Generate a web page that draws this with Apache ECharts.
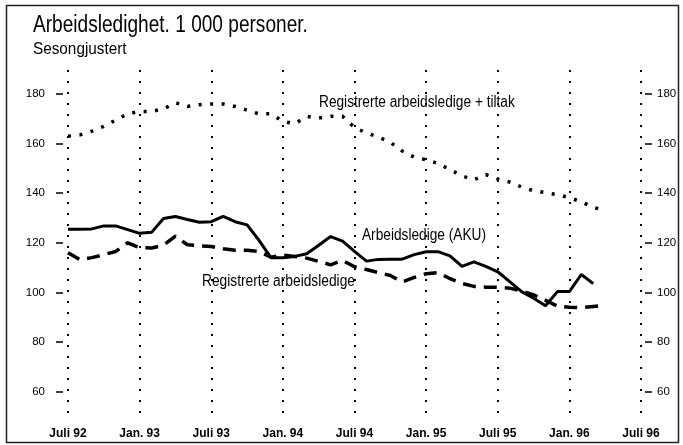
<!DOCTYPE html>
<html>
<head>
<meta charset="utf-8">
<script src="https://cdn.jsdelivr.net/npm/echarts@6/dist/echarts.min.js"></script>
<style>
  html, body { margin: 0; padding: 0; background: #fff; }
  #chartDiv { width: 683px; height: 445px; }
</style>
</head>
<body>
<div id="chartDiv"></div>
<script>
// tick labels every 6 months, Juli 92 .. Juli 96
var tickLabels = ['Juli 92', 'Jan. 93', 'Juli 93', 'Jan. 94', 'Juli 94', 'Jan. 95', 'Juli 95', 'Jan. 96', 'Juli 96'];
var yTicks = [60, 80, 100, 120, 140, 160, 180];

// Registrerte arbeidsledige + tiltak, monthly from Juli 92
var regTiltak = [163, 163.5, 165, 167, 169.5, 172, 173, 173, 174, 176.5, 175, 175.7,
  176, 176, 175, 173.5, 172, 172, 169, 168, 171, 170.3, 171, 171,
  166.5, 164.3, 162.7, 160.5, 157, 154.5, 153.5, 152, 149.5, 147, 145.4, 147.5,
  145.7, 144.5, 142.5, 141, 140.2, 139.4, 138.2, 136.5, 134.3, 133];
// Arbeidsledige (AKU)
var aku = [125.5, 125.5, 125.6, 126.8, 126.8, 125.3, 123.8, 124.2, 129.8, 130.6, 129.4, 128.3,
  128.5, 130.6, 128.5, 127.2, 121, 114, 114, 114.5, 115.6, 119, 122.5, 120.7,
  116.5, 112.6, 113.3, 113.4, 113.4, 115.2, 116.4, 116.4, 114.7, 110.5, 112.3, 110.5,
  108.3, 104.3, 100.3, 97.6, 94.6, 100.3, 100.3, 107.2, 103.5];
// Registrerte arbeidsledige
var regLedige = [116, 113.2, 114, 115.2, 116.5, 120, 118, 117.9, 119, 122.7, 119.2, 118.8,
  118.5, 117.6, 117, 117, 116.5, 114.2, 115, 114.5, 113.8, 112.5, 111.1, 112.9,
  110.3, 109.2, 108, 106.8, 104.2, 106, 107.5, 108, 105.5, 103.6, 102.4, 102.1,
  102, 101.7, 100.6, 99, 96.8, 94.4, 94, 93.8, 94.3, 94.8];

// month categories
var months = [];
for (var i = 0; i <= 48; i++) {
  var m = (6 + i) % 12 + 1, y = 1992 + Math.floor((6 + i) / 12);
  months.push(y + '-' + (m < 10 ? '0' + m : m));
}

var fnt = '"Liberation Sans", Arial, sans-serif';
var yMin = 48.5, yMax = 189.7;

function yAxisDef(pos) {
  return {
    type: 'value', position: pos, min: yMin, max: yMax,
    offset: pos === 'left' ? 5 : 4,
    axisLine: { show: false },
    splitLine: { show: false },
    axisTick: { show: true, length: 7, customValues: yTicks, lineStyle: { color: '#000', width: 1.5 } },
    axisLabel: { customValues: yTicks, margin: pos === 'left' ? 18 : 12, color: '#000', fontSize: 11.5, fontFamily: fnt }
  };
}

// narrow-looking text: scaled horizontally
function label(txt, x, y, size, sx) {
  return { type: 'text', x: x, y: y, scaleX: sx, silent: true,
    style: { text: txt, fill: '#000', fontSize: size, fontFamily: fnt, verticalAlign: 'top' } };
}

var option = {
  animation: false,
  backgroundColor: '#fff',
  grid: { left: 68, right: 42, top: 70, bottom: 25 },
  xAxis: {
    type: 'category', data: months, boundaryGap: false,
    axisLine: { show: false }, axisTick: { show: false },
    splitLine: {
      show: true, interval: function (idx) { return idx % 6 === 0; },
      lineStyle: { color: '#000', width: 2, type: [2, 9] }
    },
    axisLabel: {
      interval: function (idx) { return idx % 6 === 0; },
      formatter: function (v, idx) { return tickLabels[idx / 6]; },
      margin: 8, color: '#000', fontSize: 12, fontWeight: 'bold', fontFamily: fnt
    }
  },
  yAxis: [yAxisDef('left'), yAxisDef('right')],
  series: [
    { name: 'Registrerte arbeidsledige + tiltak', type: 'line', data: regTiltak, symbol: 'none',
      lineStyle: { color: '#000', width: 3.5, type: [3, 8.5] } },
    { name: 'Arbeidsledige (AKU)', type: 'line', data: aku, symbol: 'none',
      lineStyle: { color: '#000', width: 3 } },
    { name: 'Registrerte arbeidsledige', type: 'line', data: regLedige, symbol: 'none',
      lineStyle: { color: '#000', width: 3.5, type: [13, 8] } }
  ],
  graphic: [
    { type: 'rect', shape: { x: 6.5, y: 5.5, width: 672, height: 437 }, silent: true,
      style: { fill: 'none', stroke: '#222', lineWidth: 1.5 } },
    label('Arbeidsledighet. 1 000 personer.', 33, 14, 23, 0.83),
    label('Sesongjustert', 33, 41, 17, 0.9),
    label('Registrerte arbeidsledige + tiltak', 319, 95, 16, 0.855),
    label('Arbeidsledige (AKU)', 362, 228, 16, 0.855),
    label('Registrerte arbeidsledige', 202, 274, 16, 0.86)
  ]
};

var myChart = echarts.init(document.getElementById('chartDiv'));
myChart.setOption(option, true);
</script>
</body>
</html>
